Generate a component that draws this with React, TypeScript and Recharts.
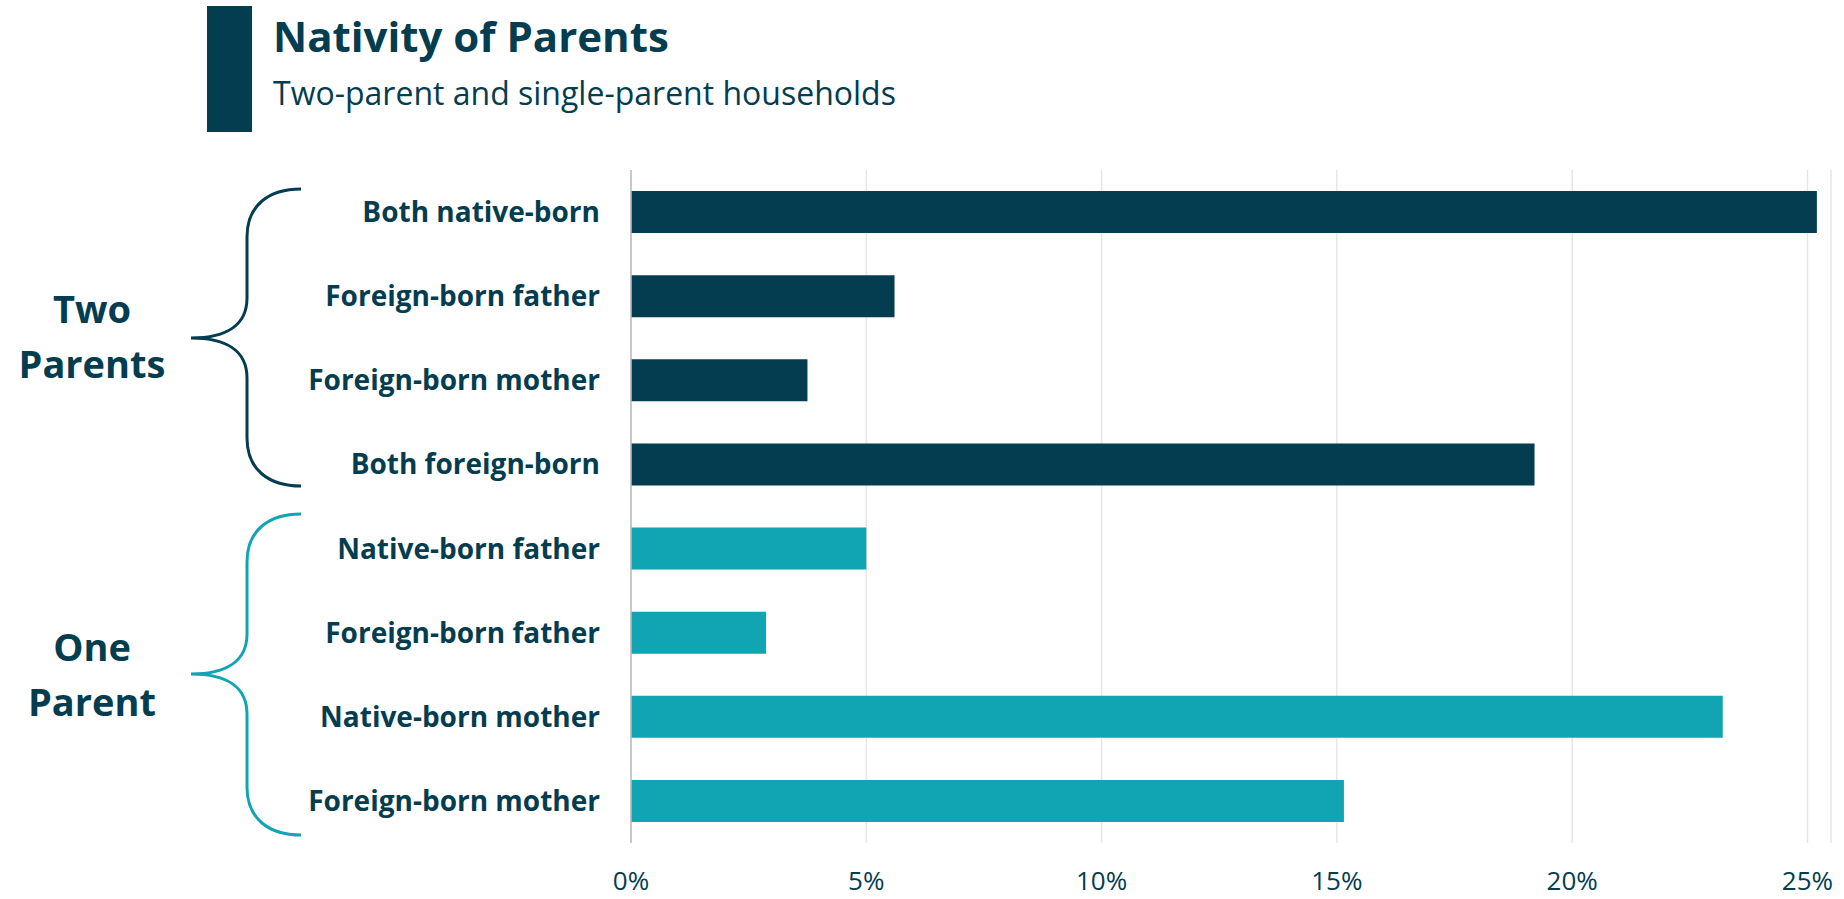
import React from 'react';
import { BarChart, Bar, XAxis, YAxis, CartesianGrid, Cell } from 'recharts';

const DARK = '#033d4f';
const TEAL = '#11a5b3';
const FONT = '"Open Sans", sans-serif';

const categories = [
  'Both native-born',
  'Foreign-born father',
  'Foreign-born mother',
  'Both foreign-born',
  'Native-born father',
  'Foreign-born father',
  'Native-born mother',
  'Foreign-born mother',
];
const groups = ['two', 'two', 'two', 'two', 'one', 'one', 'one', 'one'];
const shares = [25.2, 5.6, 3.75, 19.2, 5.0, 2.87, 23.2, 15.15];
const xTicks = [0, 5, 10, 15, 20, 25];

const data = categories.map((label, i) => ({
  id: String(i),
  label,
  group: groups[i],
  value: shares[i],
}));

// curly brace opening to the right, tip on the left
function bracePath(top: number, mid: number, bottom: number) {
  const xEnd = 301;
  const xV = 247;
  const xTip = 191;
  return [
    `M${xEnd},${top}`,
    `C${xEnd - 32},${top} ${xV},${top + 16} ${xV},${top + 48}`,
    `L${xV},${mid - 40}`,
    `C${xV},${mid - 12} ${xV - 22},${mid} ${xTip},${mid}`,
    `C${xV - 22},${mid} ${xV},${mid + 12} ${xV},${mid + 40}`,
    `L${xV},${bottom - 48}`,
    `C${xV},${bottom - 16} ${xEnd - 32},${bottom} ${xEnd},${bottom}`,
  ].join(' ');
}

export default function App() {
  return (
    <div style={{ position: 'absolute', left: 0, top: 0, width: 1844, height: 899, background: '#fff' }}>
      <BarChart
        width={1844}
        height={899}
        data={data}
        layout="vertical"
        margin={{ top: 170, right: 13, bottom: 0, left: 0 }}
      >
        <CartesianGrid horizontal={false} stroke="#e6e6e6" strokeWidth={1.5} />
        <XAxis
          type="number"
          domain={[0, 25.5]}
          ticks={xTicks}
          interval={0}
          height={56}
          axisLine={false}
          tickLine={false}
          tickSize={0}
          tickMargin={29}
          tickFormatter={(v) => `${v}%`}
          tick={{ fill: DARK, fontSize: 26, fontFamily: FONT }}
        />
        <YAxis
          type="category"
          dataKey="id"
          width={631}
          axisLine={{ stroke: '#bdbdbd', strokeWidth: 1.5 }}
          tickLine={false}
          tickSize={0}
          tickMargin={31}
          tickFormatter={(v) => categories[Number(v)]}
          tick={{ fill: DARK, fontSize: 28, fontWeight: 700, fontFamily: FONT }}
        />
        <Bar dataKey="value" barSize={42} isAnimationActive={false}>
          {data.map((d) => (
            <Cell key={d.id} fill={d.group === 'two' ? DARK : TEAL} />
          ))}
        </Bar>
      </BarChart>

      <svg
        width={1844}
        height={899}
        style={{ position: 'absolute', left: 0, top: 0, pointerEvents: 'none' }}
      >
        <rect x={207} y={6} width={45} height={126} fill={DARK} />
        <text x={273} y={52} fill={DARK} fontSize={42} fontWeight={700} fontFamily={FONT}>
          Nativity of Parents
        </text>
        <text x={273} y={105} fill={DARK} fontSize={32} fontFamily={FONT}>
          Two-parent and single-parent households
        </text>

        <path d={bracePath(189, 338, 486)} fill="none" stroke={DARK} strokeWidth={3} />
        <path d={bracePath(514, 674, 835)} fill="none" stroke={TEAL} strokeWidth={3} />

        <g fill={DARK} fontSize={38} fontWeight={700} fontFamily={FONT} textAnchor="middle">
          <text x={92} y={323}>Two</text>
          <text x={92} y={378}>Parents</text>
          <text x={92} y={661}>One</text>
          <text x={92} y={716}>Parent</text>
        </g>
      </svg>
    </div>
  );
}
